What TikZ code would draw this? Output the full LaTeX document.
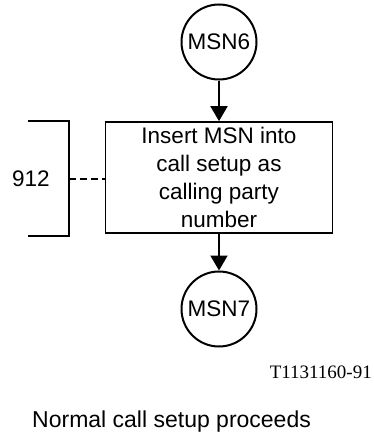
\documentclass[tikz,border=0pt]{standalone}
\usepackage{fontspec}
\setmainfont{Liberation Sans}
\newfontfamily\refserif{Liberation Serif}
\usetikzlibrary{arrows.meta}
\begin{document}
\begin{tikzpicture}[x=1pt,y=-1pt,
		conn/.style={draw,circle,line width=2pt,minimum size=75pt,inner sep=0pt,font=\fontsize{22.5}{27}\selectfont},
		proc/.style={draw,line width=1.7pt,minimum width=227pt,minimum height=111pt,align=center,inner sep=0pt,font=\fontsize{22.5}{27.7}\selectfont},
		flow/.style={line width=2pt,-{Triangle[length=15pt,width=17pt]}}]
			\useasboundingbox (0,0) rectangle (373,436);
			\node[conn] (msn6) at (219,42) {MSN6};
			\node[proc] (insert) at (219,177.5) {Insert MSN into\\call setup as\\calling party\\number};
			\node[conn] (msn7) at (219,309) {MSN7};
			\draw[flow] (msn6) -- (insert);
			\draw[flow] (insert) -- (msn7);
			\coordinate (btop) at (28,121);
			\coordinate (bbot) at (28,236);
			\coordinate (brk) at (69,179);
			\draw[line width=2.8pt] (btop) -- (btop -| brk) -- (bbot -| brk) -- (bbot);
			\draw[line width=2.6pt,dash pattern=on 7pt off 4pt] (brk) -- (brk -| insert.west);
			\node[font=\fontsize{22.5}{27}\selectfont] (ref) at (31,179) {912};
			\node[anchor=base east,inner sep=0pt,font=\refserif\fontsize{19}{22}\selectfont] (fig) at (372,378) {T1131160-91};
			\node[anchor=base west,inner sep=0pt,font=\fontsize{23}{27}\selectfont] (next) at (32,427) {Normal call setup proceeds};
		\end{tikzpicture}
\end{document}
